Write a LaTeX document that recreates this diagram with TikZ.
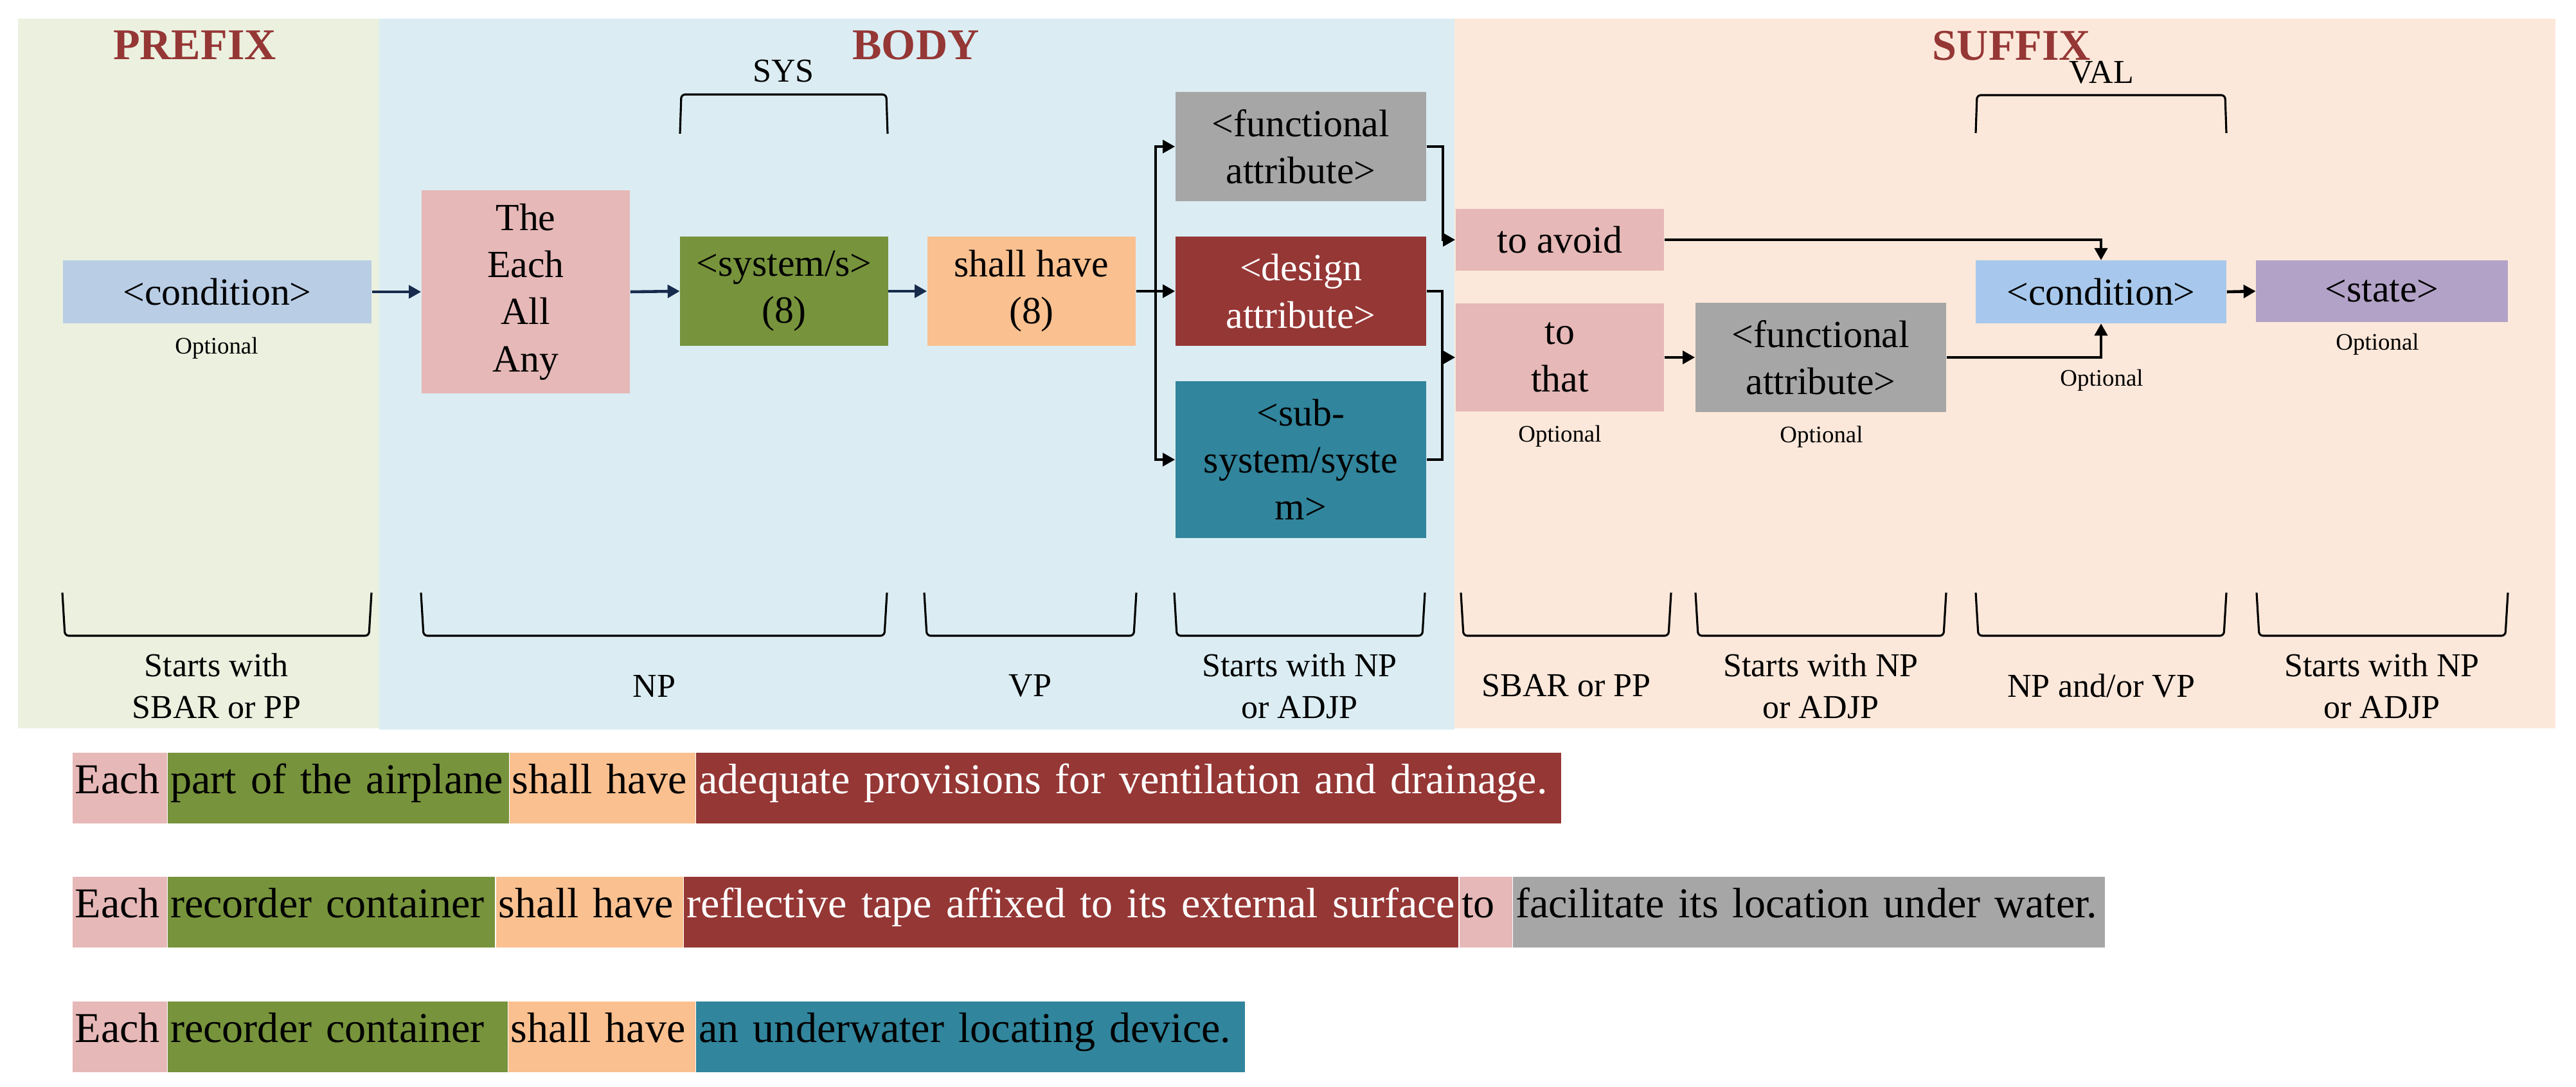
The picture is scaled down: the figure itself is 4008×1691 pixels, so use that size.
\documentclass[tikz,border=0pt]{standalone}
\usepackage{fontspec}
\setmainfont{Liberation Serif}
\usetikzlibrary{arrows.meta}
\definecolor{prefixbg}{RGB}{235,240,223}
\definecolor{bodybg}{RGB}{219,237,243}
\definecolor{suffixbg}{RGB}{252,232,218}
\definecolor{titlec}{RGB}{149,55,53}
\definecolor{bluec}{RGB}{185,205,229}
\definecolor{blue2c}{RGB}{167,200,236}
\definecolor{pinkc}{RGB}{230,184,183}
\definecolor{greenc}{RGB}{119,147,60}
\definecolor{orangec}{RGB}{250,192,144}
\definecolor{greyc}{RGB}{166,166,166}
\definecolor{redc}{RGB}{149,55,53}
\definecolor{tealc}{RGB}{49,133,156}
\definecolor{purplec}{RGB}{179,162,199}
\definecolor{navyc}{RGB}{23,43,77}
\newcommand\bxfont{\fontsize{17}{20.8}\selectfont}
\newcommand\lbfont{\fontsize{14.8}{18.5}\selectfont}
\newcommand\optfont{\fontsize{10.5}{12}\selectfont}
\newcommand\ttlfont{\fontsize{19.4}{22}\selectfont\bfseries}
\newcommand\snfont{\fontsize{18.8}{22}\selectfont}
\begin{document}
\begin{tikzpicture}[x=0.01cm,y=-0.01cm,
  box/.style={inner sep=0pt, align=center, font=\bxfont},
  opt/.style={inner sep=0pt, font=\optfont},
  lbl/.style={inner sep=0pt, align=center, font=\lbfont},
  ttl/.style={inner sep=0pt, font=\ttlfont, text=titlec},
  arr/.style={line width=1.3pt, -{Triangle[length=0.19cm,width=0.2cm]}},
  ln/.style={line width=1.3pt},
  brk/.style={line width=0.9pt, rounded corners=0.06cm},
  seg/.style={inner xsep=0.04cm, inner ysep=0pt, anchor=west, align=left, minimum height=1.1cm, font=\snfont, text height=0.68em, text depth=0.22em}
]
\useasboundingbox (0,0) rectangle (4008,1691);
% panels
\fill[prefixbg] (28,29) rectangle (590,1133);
\fill[bodybg] (590,29) rectangle (2263,1135);
\fill[suffixbg] (2263,29) rectangle (3976,1133);
\node[ttl] (tprefix) at (303,70) {PREFIX};
\node[ttl] (tbody) at (1425,70) {BODY};
\node[ttl] (tsuffix) at (3130,71) {SUFFIX};

% boxes
\node[box, fill=bluec, minimum width=4.8cm, minimum height=0.98cm] (cond1) at (338,454) {<condition>};
\node[box, fill=pinkc, minimum width=3.24cm, minimum height=3.16cm] (det) at (818,454) {The\\Each\\All\\Any};
\node[box, fill=greenc, minimum width=3.23cm, minimum height=1.7cm] (sys) at (1220,453) {<system/s>\\(8)};
\node[box, fill=orangec, minimum width=3.24cm, minimum height=1.69cm] (shall) at (1605,453) {shall have\\(8)};
\node[box, fill=greyc, minimum width=3.9cm, minimum height=1.69cm] (func1) at (2024,228) {<functional\\attribute>};
\node[box, fill=redc, text=white, minimum width=3.9cm, minimum height=1.69cm] (design) at (2024,453) {<design\\attribute>};
\node[box, fill=tealc, minimum width=3.9cm, minimum height=2.44cm] (subsys) at (2024,715) {<sub-\\system/syste\\m>};
\node[box, fill=pinkc, minimum width=3.24cm, minimum height=0.95cm] (avoid) at (2427,373) {to avoid};
\node[box, fill=pinkc, minimum width=3.24cm, minimum height=1.68cm] (tothat) at (2427,556) {to\\that};
\node[box, fill=greyc, minimum width=3.9cm, minimum height=1.69cm] (func2) at (2833,556) {<functional\\attribute>};
\node[box, fill=blue2c, minimum width=3.9cm, minimum height=0.97cm] (cond2) at (3269,454) {<condition>};
\node[box, fill=purplec, minimum width=3.91cm, minimum height=0.96cm] (state) at (3706,453) {<state>};

% optional labels
\node[opt] (o1) at (337,542) {Optional};
\node[opt] (o2) at (2427,679) {Optional};
\node[opt] (o3) at (2834,680) {Optional};
\node[opt] (o4) at (3270,592) {Optional};
\node[opt] (o5) at (3699,536) {Optional};

% connectors
\draw[arr, navyc] (cond1.east) -- (det.west);
\draw[arr, navyc] (det.east) -- (sys.west);
\draw[arr, navyc] (sys.east) -- (shall.west);
\coordinate (br) at (1798,453);
\draw[arr] (shall.east) -- (design.west);
\draw[arr] (br) |- (func1.west);
\draw[arr] (br) |- (subsys.west);
\draw[arr] (func1.east) -- ++(25,0) |- (avoid.west);
\coordinate (m2) at (2244,556);
\draw[ln] (design.east) -| (m2) |- (subsys.east);
\draw[arr] (m2) -- (tothat.west);
\draw[arr] (avoid.east) -| (cond2.north);
\draw[arr] (tothat.east) -- (func2.west);
\draw[arr] (func2.east) -| (cond2.south);
\draw[arr] (cond2.east) -- (state.west);

% top brackets
\draw[brk] (1058,208) -- (1060,147) -- (1379,147) -- (1381,208);
\node[lbl] (lsys) at (1219,111) {SYS};
\draw[brk] (3074,207) -- (3076,148) -- (3462,148) -- (3464,207);
\node[lbl] (lval) at (3270,113) {VAL};

% bottom brackets
\foreach \a/\b in {97/578, 655/1380, 1438/1768, 1827/2217, 2273/2600, 2638/3028, 3074/3464, 3511/3902}{
  \draw[brk] (\a,922) -- (\a+4,989) -- (\b-4,989) -- (\b,922);
}
\node[lbl] (b1) at (337,1067) {Starts with\\SBAR or PP};
\node[lbl] (b2) at (1018,1067) {NP};
\node[lbl] (b3) at (1603,1067) {VP};
\node[lbl] (b4) at (2022,1067) {Starts with NP\\or ADJP};
\node[lbl] (b5) at (2437,1067) {SBAR or PP};
\node[lbl] (b6) at (2833,1067) {Starts with NP\\or ADJP};
\node[lbl] (b7) at (3269,1067) {NP and/or VP};
\node[lbl] (b8) at (3706,1067) {Starts with NP\\or ADJP};

% example sentences
\node[seg, fill=pinkc, text width=1.39cm] (r1a) at (112,1226) {Each};
\node[seg, fill=greenc, text width=5.22cm] (r1b) at (r1a.east) {part of the airplane};
\node[seg, fill=orangec, text width=2.81cm] (r1c) at (r1b.east) {shall have};
\node[seg, fill=redc, text=white, text width=13.37cm] (r1d) at (r1c.east) {adequate provisions for ventilation and drainage.};

\node[seg, fill=pinkc, text width=1.39cm] (r2a) at (112,1419) {Each};
\node[seg, fill=greenc, text width=5.01cm] (r2b) at (r2a.east) {recorder container};
\node[seg, fill=orangec, text width=2.83cm] (r2c) at (r2b.east) {shall have};
\node[seg, fill=redc, text=white, text width=11.96cm] (r2d) at (r2c.east) {reflective tape affixed to its external surface};
\node[seg, fill=pinkc, text width=0.74cm] (r2e) at (r2d.east) {to};
\node[seg, fill=greyc, text width=9.12cm] (r2f) at (r2e.east) {facilitate its location under water.};

\node[seg, fill=pinkc, text width=1.39cm] (r3a) at (112,1613) {Each};
\node[seg, fill=greenc, text width=5.20cm] (r3b) at (r3a.east) {recorder container};
\node[seg, fill=orangec, text width=2.83cm] (r3c) at (r3b.east) {shall have};
\node[seg, fill=tealc, text width=8.45cm] (r3d) at (r3c.east) {an underwater locating device.};
\end{tikzpicture}
\end{document}
